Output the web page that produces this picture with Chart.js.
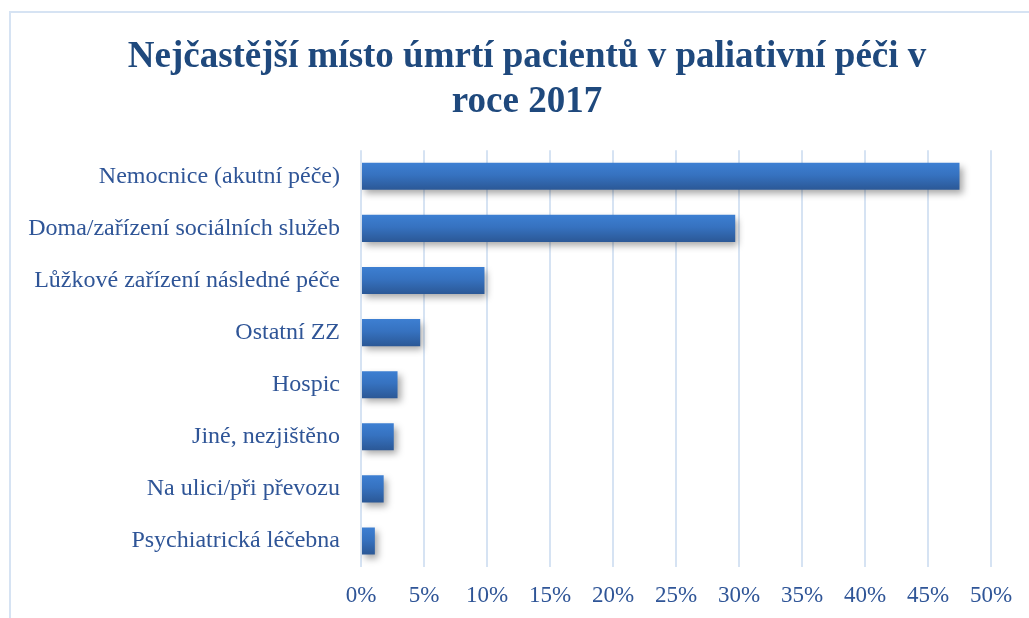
<!DOCTYPE html>
<html>
<head>
<meta charset="utf-8">
<script src="https://cdn.jsdelivr.net/npm/chart.js@4/dist/chart.umd.min.js"></script>
<style>
  html, body { margin: 0; padding: 0; background: #fff; overflow: hidden; }
  #frame {
    position: absolute; left: 9px; top: 11px; width: 1040px; height: 620px;
    border: 2px solid #d6e3f3; box-sizing: border-box;
  }
  #wrap { position: absolute; left: 0; top: 0; width: 1029px; height: 618px; }
</style>
</head>
<body>
<div id="frame"></div>
<div id="wrap"><canvas id="chart" width="1029" height="618"></canvas></div>
<script>
const categories = [
    "Nemocnice (akutní péče)",
    "Doma/zařízení sociálních služeb",
    "Lůžkové zařízení následné péče",
    "Ostatní ZZ",
    "Hospic",
    "Jiné, nezjištěno",
    "Na ulici/při převozu",
    "Psychiatrická léčebna"
];
const shares = [47.5, 29.7, 9.8, 4.7, 2.9, 2.6, 1.8, 1.1]; // percent
const titleLines = ["Nejčastější místo úmrtí pacientů v paliativní péči v", "roce 2017"];

const TEXT_COLOR = "#2f5597";
const GRID_COLOR = "#d6e3f3";
const BAR_PCT = 0.52;

// soft drop shadow under the bars
const barShadow = {
    id: "barShadow",
    beforeDatasetsDraw(chart) {
        const ctx = chart.ctx;
        ctx.save();
        ctx.shadowColor = "rgba(0,0,0,0.35)";
        ctx.shadowBlur = 7;
        ctx.shadowOffsetX = 3;
        ctx.shadowOffsetY = 4;
    },
    afterDatasetsDraw(chart) {
        chart.ctx.restore();
    }
};

// title is centred a bit right of the canvas centre in the original
const titleShift = {
    id: "titleShift",
    afterLayout(chart) {
        if (chart.titleBlock) chart.titleBlock.left = 63;
    }
};

function barGradient(context) {
    const chart = context.chart;
    const y = chart.scales && chart.scales.y;
    if (!y || context.dataIndex === undefined) return "#3a75c4";
    const center = y.getPixelForTick(context.dataIndex);
    const half = (y.height / categories.length) * BAR_PCT / 2;
    if (!isFinite(center) || !isFinite(half) || half <= 0) return "#3a75c4";
    const g = chart.ctx.createLinearGradient(0, center - half, 0, center + half);
    g.addColorStop(0, "#3d7fd2");
    g.addColorStop(0.45, "#3672c0");
    g.addColorStop(1, "#2b5896");
    return g;
}

new Chart(document.getElementById("chart"), {
    type: "bar",
    data: {
        labels: categories,
        datasets: [{
            data: shares,
            backgroundColor: barGradient,
            borderWidth: 0,
            barPercentage: BAR_PCT,
            categoryPercentage: 1.0
        }]
    },
    plugins: [barShadow, titleShift],
    options: {
        indexAxis: "y",
        responsive: false,
        animation: false,
        layout: { padding: { left: 10, right: 38, top: 22, bottom: 0 } },
        plugins: {
            legend: { display: false },
            tooltip: { enabled: false },
            title: {
                display: true,
                text: titleLines,
                color: "#1f497d",
                font: { family: "Liberation Serif", size: 37, weight: "bold", lineHeight: 1.22 },
                padding: { top: 13, bottom: 25 }
            }
        },
        scales: {
            x: {
                min: 0,
                max: 50,
                ticks: {
                    stepSize: 5,
                    color: TEXT_COLOR,
                    font: { family: "Liberation Serif", size: 23 },
                    padding: 15,
                    callback: v => v + "%"
                },
                grid: { color: GRID_COLOR, lineWidth: 2, drawTicks: false },
                border: { display: false },
                afterFit(axis) { axis.height = 51; }
            },
            y: {
                ticks: {
                    color: TEXT_COLOR,
                    font: { family: "Liberation Serif", size: 24 },
                    padding: 13
                },
                grid: { display: false },
                border: { display: false },
                afterFit(axis) { axis.width = 351; }
            }
        }
    }
});
</script>
</body>
</html>
